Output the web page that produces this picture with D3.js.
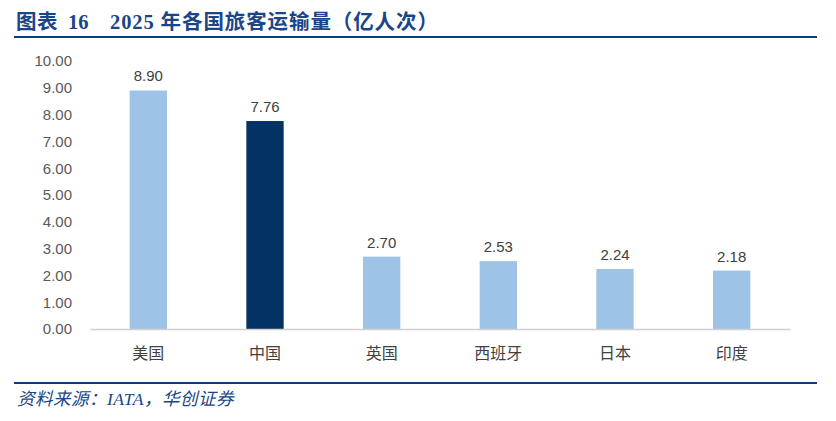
<!DOCTYPE html>
<html>
<head>
<meta charset="utf-8">
<script src="https://cdn.jsdelivr.net/npm/d3@7"></script>
<style>
  html, body { margin: 0; padding: 0; background: #ffffff; }
  svg { display: block; }
</style>
</head>
<body>
<div id="chart"></div>
<script>
// Data
const countries = ["美国", "中国", "英国", "西班牙", "日本", "印度"];
const passengers = [8.90, 7.76, 2.70, 2.53, 2.24, 2.18];
const yTicks = [0, 1, 2, 3, 4, 5, 6, 7, 8, 9, 10];
const highlight = "中国";

const titleLabel = "图表";
const titleNumber = "16";
const titleText = "2025 年各国旅客运输量（亿人次）";
const sourceText = "资料来源：IATA，华创证券";

// Layout
const width = 836;
const height = 421;
const plot = { left: 90, right: 790, top: 61, bottom: 329 };

const svg = d3.select("#chart")
  .append("svg")
  .attr("width", width)
  .attr("height", height);

// Title and rules
const titleFont = "'Liberation Serif', 'Noto Sans CJK SC', serif";
function titlePart(px, txt, spacing) {
  svg.append("text")
    .attr("x", px)
    .attr("y", 29)
    .attr("fill", "#1a4586")
    .style("font-family", titleFont)
    .style("font-weight", "bold")
    .style("font-size", "20.5px")
    .style("letter-spacing", spacing)
    .text(txt);
}
titlePart(16, titleLabel, "0.5px");
titlePart(68, titleNumber, "0px");
titlePart(110, titleText, "0.9px");

svg.append("line")
  .attr("x1", 14).attr("x2", 817)
  .attr("y1", 37).attr("y2", 37)
  .attr("stroke", "#0b3d7e")
  .attr("stroke-width", 2);

svg.append("line")
  .attr("x1", 14).attr("x2", 817)
  .attr("y1", 383).attr("y2", 383)
  .attr("stroke", "#0b3d7e")
  .attr("stroke-width", 2);

svg.append("text")
  .attr("x", 17)
  .attr("y", 405)
  .attr("fill", "#1a4586")
  .style("font-family", "'Liberation Serif', 'Noto Sans CJK SC', serif")
  .style("font-style", "italic")
  .style("font-size", "17.5px")
  .style("letter-spacing", "0.5px")
  .text(sourceText);

// Scales
const x = d3.scaleBand()
  .domain(countries)
  .range([plot.left, plot.right])
  .paddingInner(0.68)
  .paddingOuter(0.34);

const y = d3.scaleLinear()
  .domain([0, 10])
  .range([plot.bottom, plot.top]);

// Y axis (labels only)
const yAxis = svg.append("g")
  .attr("transform", `translate(${plot.left - 18},0)`)
  .call(d3.axisLeft(y).tickValues(yTicks).tickSize(0).tickPadding(0).tickFormat(d3.format(".2f")));
yAxis.select(".domain").remove();
yAxis.selectAll("text")
  .attr("fill", "#595959")
  .style("font-family", "'Liberation Sans', Arial, sans-serif")
  .style("font-size", "15px");

// Bars
const rows = countries.map((c, i) => ({ country: c, value: passengers[i] }));

svg.selectAll(".bar")
  .data(rows)
  .enter()
  .append("rect")
  .attr("class", "bar")
  .attr("x", d => x(d.country))
  .attr("width", x.bandwidth())
  .attr("y", d => y(d.value))
  .attr("height", d => y(0) - y(d.value))
  .attr("fill", d => d.country === highlight ? "#053264" : "#9dc3e6");

// Value labels
svg.selectAll(".value-label")
  .data(rows)
  .enter()
  .append("text")
  .attr("class", "value-label")
  .attr("x", d => x(d.country) + x.bandwidth() / 2)
  .attr("y", d => y(d.value) - 9)
  .attr("text-anchor", "middle")
  .attr("fill", "#404040")
  .style("font-family", "'Liberation Sans', Arial, sans-serif")
  .style("font-size", "15px")
  .text(d => d3.format(".2f")(d.value));

// X axis
const xAxis = svg.append("g")
  .attr("transform", `translate(0,${plot.bottom})`)
  .call(d3.axisBottom(x).tickSize(0).tickPadding(19));
xAxis.select(".domain")
  .attr("stroke", "#d0d0d0")
  .attr("stroke-width", 1.5);
xAxis.selectAll("text")
  .attr("fill", "#404040")
  .style("font-family", "'Noto Sans CJK SC', sans-serif")
  .style("font-size", "16px");
</script>
</body>
</html>
